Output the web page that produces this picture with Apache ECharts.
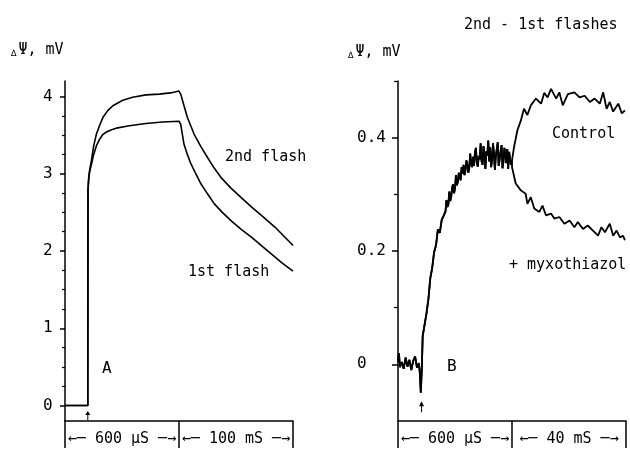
<!DOCTYPE html>
<html>
<head>
<meta charset="utf-8">
<script src="https://cdn.jsdelivr.net/npm/echarts@6/dist/echarts.min.js"></script>
<style>
html,body{margin:0;padding:0;background:#fff;}
#c{width:630px;height:454px;}
</style>
</head>
<body>
<div id="c"></div>
<script>
// ---------- Panel A: flash responses (fast part in µs, slow part in ms) ----------
const aFast2ndT = [0, 120, 121, 125, 130, 139, 151, 165, 183, 200, 226, 252, 304, 356, 426, 496, 565, 600];
const aFast2nd  = [0, 0, 2.78, 2.95, 3.05, 3.17, 3.36, 3.51, 3.63, 3.73, 3.82, 3.88, 3.95, 3.99, 4.02, 4.03, 4.05, 4.07];
const aFast1stT = [0, 120, 121, 125, 130, 139, 150, 165, 183, 200, 218, 245, 270, 339, 426, 513, 600];
const aFast1st  = [0, 0, 2.78, 2.95, 3.03, 3.12, 3.24, 3.36, 3.45, 3.51, 3.54, 3.57, 3.59, 3.62, 3.65, 3.67, 3.68];
const aSlow2ndT = [0, 1.5, 4.4, 7.3, 13.3, 19.2, 25.0, 31.0, 36.9, 45.8, 54.6, 63.5, 72.3, 84.1, 98.8, 100];
const aSlow2nd  = [4.07, 4.03, 3.88, 3.73, 3.51, 3.35, 3.21, 3.07, 2.95, 2.81, 2.69, 2.57, 2.46, 2.31, 2.09, 2.07];
const aSlow1stT = [0, 1.5, 4.4, 7.3, 10.4, 14.7, 19.2, 25.0, 31.0, 38.0, 45.8, 54.6, 63.5, 72.3, 81.2, 90.0, 100];
const aSlow1st  = [3.68, 3.64, 3.38, 3.25, 3.13, 3.00, 2.87, 2.74, 2.61, 2.50, 2.39, 2.28, 2.18, 2.07, 1.96, 1.85, 1.74];
const aFlashT = 120;

// ---------- Panel B: 2nd - 1st flashes (fast part in µs, slow part in ms) ----------
const bFastT = [0,5,10,20,30,40,50,60,70,80,90,100,110,115,120,125,130,140,150,160,170,180,190,200,210,220,230,240,
  250,255,260,265,270,275,280,285,290,295,300,305,310,315,320,325,330,335,340,345,350,355,360,365,370,375,380,385,390,395,
  400,405,410,415,420,425,430,435,440,445,450,455,460,465,470,475,480,485,490,495,500,505,510,515,520,525,530,535,540,545,
  550,555,560,565,570,575,580,585,590,595,600];
const bFast  = [0.005,0.02,-0.005,0.004,-0.008,0.012,-0.004,0.008,-0.01,0.006,0.014,-0.006,0.002,-0.015,-0.05,-0.01,0.05,0.07,0.09,0.115,0.152,0.17,0.198,0.21,0.238,0.232,0.255,0.262,
  0.27,0.29,0.278,0.282,0.305,0.288,0.296,0.312,0.318,0.302,0.31,0.334,0.316,0.322,0.338,0.33,0.325,0.348,0.336,0.352,0.334,0.343,0.36,0.352,0.338,0.346,0.372,0.355,0.348,0.366,
  0.35,0.374,0.382,0.355,0.349,0.368,0.362,0.39,0.358,0.352,0.385,0.37,0.345,0.376,0.368,0.395,0.358,0.383,0.348,0.36,0.39,0.372,0.343,0.368,0.38,0.392,0.35,0.362,0.376,0.387,
  0.346,0.358,0.382,0.37,0.355,0.38,0.345,0.375,0.362,0.352,0.36];
const bCtrlT = [0,0.7,1.9,3.1,4.2,5.4,6.6,8.4,10.2,11.3,12.5,13.7,15.5,16.6,17.8,19.6,21.9,23.7,25.5,27.3,29.0,30.8,32.0,33.2,34.3,35.5,37.3,38.5,39.6];
const bCtrl  = [0.36,0.383,0.413,0.43,0.451,0.44,0.457,0.469,0.46,0.479,0.471,0.486,0.469,0.48,0.457,0.477,0.48,0.471,0.474,0.463,0.469,0.46,0.48,0.451,0.463,0.446,0.46,0.443,0.448];
const bMyxT  = [0,1.3,3.1,4.8,5.4,6.6,7.8,9.6,10.7,11.9,13.7,14.9,16.6,18.4,20.2,21.9,23.1,24.9,26.6,28.4,30.2,31.4,32.6,34.3,35.5,36.7,37.9,39.0,39.6];
const bMyx   = [0.348,0.319,0.307,0.301,0.283,0.295,0.275,0.269,0.28,0.263,0.266,0.257,0.26,0.248,0.254,0.242,0.251,0.239,0.245,0.236,0.227,0.242,0.233,0.248,0.227,0.236,0.224,0.227,0.219];
const bFlashT = 124;

// ---------- ticks and labels ----------
const aYMajor = [0, 1, 2, 3, 4];
const aYMinor = [0.25,0.5,0.75,1.25,1.5,1.75,2.25,2.5,2.75,3.25,3.5,3.75];
const bYMajor = [0, 0.2, 0.4];
const bYMinor = [0.1, 0.3, 0.5];
const aScaleLabels = ['600 µS', '100 mS'];
const bScaleLabels = ['600 µS', '40 mS'];
const yUnit = 'mV';
const title = '2nd - 1st flashes';
const aNames = ['2nd flash', '1st flash'];
const bNames = ['Control', '+ myxothiazol'];

// fast segment spans axis 0..600, slow segment spans axis 600..1200
const aSlowScale = 600 / 100; // 100 mS
const bSlowScale = 600 / 40;  // 40 mS
function build(ft, fv, st, sv, scale) {
  const d = ft.map((t, i) => [t, fv[i]]);
  return d.concat(st.map((t, i) => [600 + t * scale, sv[i]]));
}

const FONT = '"DejaVu Sans Mono", "Liberation Mono", monospace';
const chart = echarts.init(document.getElementById('c'), null, {renderer: 'canvas'});

function xAxis(grid, labels) {
  return {
    type: 'value', gridIndex: grid, min: 0, max: 1200,
    axisLine: {show: true, onZero: false, lineStyle: {color: '#000', width: 1.5}},
    splitLine: {show: false},
    axisTick: {show: true, customValues: [0, 600, 1200], length: 27, lineStyle: {color: '#000', width: 1.5}},
    axisLabel: {
      show: true, customValues: [300, 900], margin: 11,
      fontFamily: FONT, fontSize: 15, color: '#000',
      formatter: v => '←─ ' + (v < 600 ? labels[0] : labels[1]) + ' ─→'
    }
  };
}
function yMain(grid, min, max, major, len, margin, fmt) {
  return {
    type: 'value', gridIndex: grid, min: min, max: max, position: 'left',
    axisLine: {show: true, onZero: false, lineStyle: {color: '#000', width: 1.5}},
    splitLine: {show: false},
    axisTick: {show: true, customValues: major, length: len, lineStyle: {color: '#000', width: 1.5}},
    axisLabel: {show: true, customValues: major, align: 'left', margin: margin,
      fontFamily: FONT, fontSize: 16, color: '#000', formatter: fmt}
  };
}
function yMinor(grid, min, max, minor, len) {
  return {
    type: 'value', gridIndex: grid, min: min, max: max, position: 'left',
    axisLine: {show: false},
    splitLine: {show: false},
    axisTick: {show: true, customValues: minor, length: len, lineStyle: {color: '#000', width: 1.2}},
    axisLabel: {show: false}
  };
}
const arrowPath = 'path://M5,0 L10,7 L6,7 L6,16 L4,16 L4,7 L0,7 Z';
const lineStyle = w => ({color: '#000', width: w});

const txt = (left, cy, text, size) => ({
  type: 'text', left: left, top: cy - (size || 15) * 0.6,
  style: {text: text, fill: '#000', font: (size || 15) + 'px ' + FONT}
});
const dpsi = (left, cy) => ({
  type: 'text', left: left, top: cy - 10,
  style: {
    text: '{d|∆}{p|Ψ, ' + yUnit + '}',
    rich: {
      d: {fontSize: 9, fontFamily: FONT, fill: '#000', verticalAlign: 'bottom', padding: [4, 2, 0, 0]},
      p: {fontSize: 15, fontFamily: FONT, fill: '#000'}
    }
  }
});

chart.setOption({
  animation: false,
  backgroundColor: '#fff',
  grid: [
    {left: 65, top: 81, width: 228, height: 340},
    {left: 398, top: 81, width: 228, height: 340}
  ],
  xAxis: [xAxis(0, aScaleLabels), xAxis(1, bScaleLabels)],
  yAxis: [
    yMain(0, -0.2, 4.2, aYMajor, 5, 22, v => String(v)),
    yMinor(0, -0.2, 4.2, aYMinor, 3),
    yMain(1, -0.1, 0.5, bYMajor, 6, 41, v => v === 0 ? '0' : v.toFixed(1)),
    yMinor(1, -0.1, 0.5, bYMinor, 4)
  ],
  series: [
    {type: 'line', name: aNames[0], xAxisIndex: 0, yAxisIndex: 0, symbol: 'none', clip: false,
      data: build(aFast2ndT, aFast2nd, aSlow2ndT, aSlow2nd, aSlowScale), lineStyle: lineStyle(1.6),
      markPoint: {symbol: arrowPath, symbolSize: [5, 9], silent: true, label: {show: false},
        itemStyle: {color: '#000'}, data: [{coord: [aFlashT, -0.13]}]}},
    {type: 'line', name: aNames[1], xAxisIndex: 0, yAxisIndex: 0, symbol: 'none', clip: false,
      data: build(aFast1stT, aFast1st, aSlow1stT, aSlow1st, aSlowScale), lineStyle: lineStyle(1.6)},
    {type: 'line', name: bNames[0], xAxisIndex: 1, yAxisIndex: 2, symbol: 'none', clip: false,
      data: build(bFastT, bFast, bCtrlT, bCtrl, bSlowScale), lineStyle: lineStyle(1.8),
      markPoint: {symbol: arrowPath, symbolSize: [5, 11], silent: true, label: {show: false},
        itemStyle: {color: '#000'}, data: [{coord: [bFlashT, -0.075]}]}},
    {type: 'line', name: bNames[1], xAxisIndex: 1, yAxisIndex: 2, symbol: 'none', clip: false,
      data: build(bFastT, bFast, bMyxT, bMyx, bSlowScale), lineStyle: lineStyle(1.8)}
  ],
  graphic: [
    txt(464, 27, title),
    dpsi(11, 53),
    dpsi(348, 55),
    txt(225, 159, aNames[0]),
    txt(188, 274, aNames[1]),
    txt(102, 370, 'A', 16),
    txt(447, 368, 'B', 16),
    txt(552, 136, bNames[0]),
    txt(509, 267, bNames[1])
  ]
});
</script>
</body>
</html>
